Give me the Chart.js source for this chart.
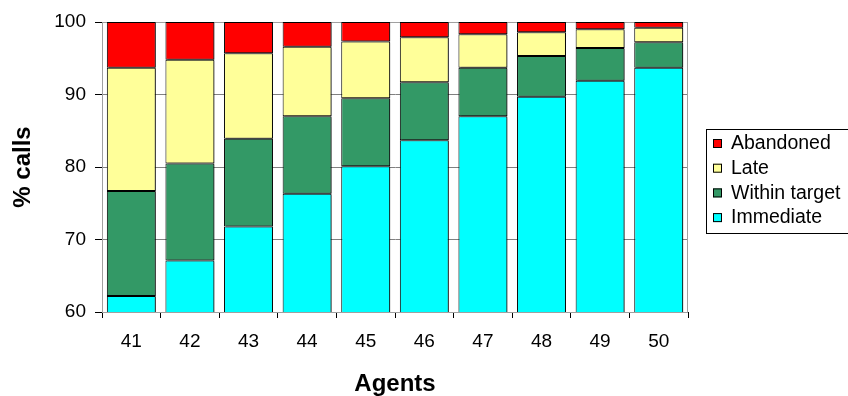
<!DOCTYPE html>
<html>
<head>
<meta charset="utf-8">
<script src="https://cdn.jsdelivr.net/npm/chart.js@4"></script>
<style>
  html, body { margin: 0; padding: 0; background: #ffffff; }
  #wrap { width: 848px; height: 396px; }
</style>
</head>
<body>
<div id="wrap"><canvas id="chart" width="848" height="396"></canvas></div>
<script>
// Number of agents on shift
const agents = ['41', '42', '43', '44', '45', '46', '47', '48', '49', '50'];

// Share of calls in each outcome band (percent, stacked to 100)
const immediate    = [62.2, 67.1, 71.8, 76.3, 80.1, 83.7, 87.0, 89.7, 91.9, 93.7];
const withinTarget = [14.5, 13.4, 12.1, 10.7,  9.4,  8.0,  6.7,  5.6,  4.5,  3.5];
const late         = [17.0, 14.3, 11.8,  9.6,  7.8,  6.2,  4.6,  3.3,  2.6,  2.0];
const abandoned    = [ 6.3,  5.2,  4.3,  3.4,  2.7,  2.1,  1.7,  1.4,  1.0,  0.8];

const yTicks = [60, 70, 80, 90, 100];

const FONT = "'Liberation Sans', Arial, sans-serif";

// Grey frame around the plot area
const plotFrame = {
  id: 'plotFrame',
  beforeDatasetsDraw(chart) {
    const { ctx, chartArea: a } = chart;
    ctx.save();
    ctx.strokeStyle = '#a0a0a0';
    ctx.lineWidth = 1;
    ctx.strokeRect(a.left + 0.5, a.top + 0.5, a.right - a.left - 1, a.bottom - a.top);
    ctx.restore();
  }
};

// Small drop shadow on the bar segments
const barShadow = {
  id: 'barShadow',
  beforeDatasetDraw(chart) {
    const ctx = chart.ctx;
    ctx.save();
    ctx.shadowColor = 'rgba(0,0,0,0.5)';
    ctx.shadowOffsetX = 2;
    ctx.shadowOffsetY = 1;
    ctx.shadowBlur = 0;
  },
  afterDatasetDraw(chart) {
    chart.ctx.restore();
  }
};

// Boxed legend to the right of the plot, top entry = top of the stack
const boxLegend = {
  id: 'boxLegend',
  afterDraw(chart) {
    const ctx = chart.ctx;
    const sets = chart.data.datasets.slice().reverse();
    const x0 = 706, y0 = 129, w = 170, h = 104;
    const rowH = 24.7, firstRow = y0 + 14;
    ctx.save();
    ctx.fillStyle = '#ffffff';
    ctx.fillRect(x0, y0, w, h);
    ctx.strokeStyle = '#000000';
    ctx.lineWidth = 1;
    ctx.strokeRect(x0 + 0.5, y0 + 0.5, w, h);
    ctx.font = '19.5px ' + FONT;
    ctx.textBaseline = 'middle';
    ctx.textAlign = 'left';
    sets.forEach((ds, i) => {
      const cy = firstRow + i * rowH;
      ctx.fillStyle = ds.backgroundColor;
      ctx.fillRect(x0 + 7, cy - 4, 9, 9);
      ctx.strokeStyle = '#000000';
      ctx.strokeRect(x0 + 7.5, cy - 3.5, 8, 8);
      ctx.fillStyle = '#000000';
      ctx.fillText(ds.label, x0 + 25, cy + 1);
    });
    ctx.restore();
  }
};

const common = {
  borderColor: '#000000',
  borderWidth: 1,
  borderSkipped: false,
  barPercentage: 0.835,
  categoryPercentage: 1.0
};

new Chart(document.getElementById('chart'), {
  type: 'bar',
  data: {
    labels: agents,
    datasets: [
      { label: 'Immediate',     data: immediate,    backgroundColor: '#00ffff', ...common },
      { label: 'Within target', data: withinTarget, backgroundColor: '#339966', ...common },
      { label: 'Late',          data: late,         backgroundColor: '#ffff99', ...common },
      { label: 'Abandoned',     data: abandoned,    backgroundColor: '#ff0000', ...common }
    ]
  },
  options: {
    responsive: false,
    animation: false,
    devicePixelRatio: 1,
    layout: { padding: { left: 0, right: 160, top: 22, bottom: 0 } },
    plugins: {
      legend: { display: false },
      tooltip: { enabled: false }
    },
    scales: {
      x: {
        stacked: true,
        grid: {
          offset: true,
          drawOnChartArea: false,
          drawTicks: true,
          tickLength: 6,
          tickColor: '#000000'
        },
        border: { display: true, color: '#000000', width: 1 },
        ticks: {
          color: '#000000',
          font: { family: FONT, size: 19 },
          padding: 12,
          maxRotation: 0,
          autoSkip: false
        },
        title: {
          display: true,
          text: 'Agents',
          color: '#000000',
          font: { family: FONT, size: 24, weight: 'bold', lineHeight: 1 },
          padding: { top: 0, bottom: 0 }
        },
        afterFit(scale) { scale.height = 84; }
      },
      y: {
        stacked: true,
        min: 60,
        max: 100,
        afterBuildTicks(scale) { scale.ticks = yTicks.map(v => ({ value: v })); },
        grid: {
          color: '#808080',
          lineWidth: 1,
          drawTicks: true,
          tickLength: 7,
          tickColor: '#000000'
        },
        border: { display: true, color: '#000000', width: 1 },
        ticks: {
          color: '#000000',
          font: { family: FONT, size: 19 },
          padding: 9
        },
        title: {
          display: true,
          text: '% calls',
          color: '#000000',
          font: { family: FONT, size: 24, weight: 'bold', lineHeight: 1 },
          padding: { top: 11, bottom: 0 }
        },
        afterFit(scale) { scale.width = 102; }
      }
    }
  },
  plugins: [plotFrame, barShadow, boxLegend]
});
</script>
</body>
</html>
